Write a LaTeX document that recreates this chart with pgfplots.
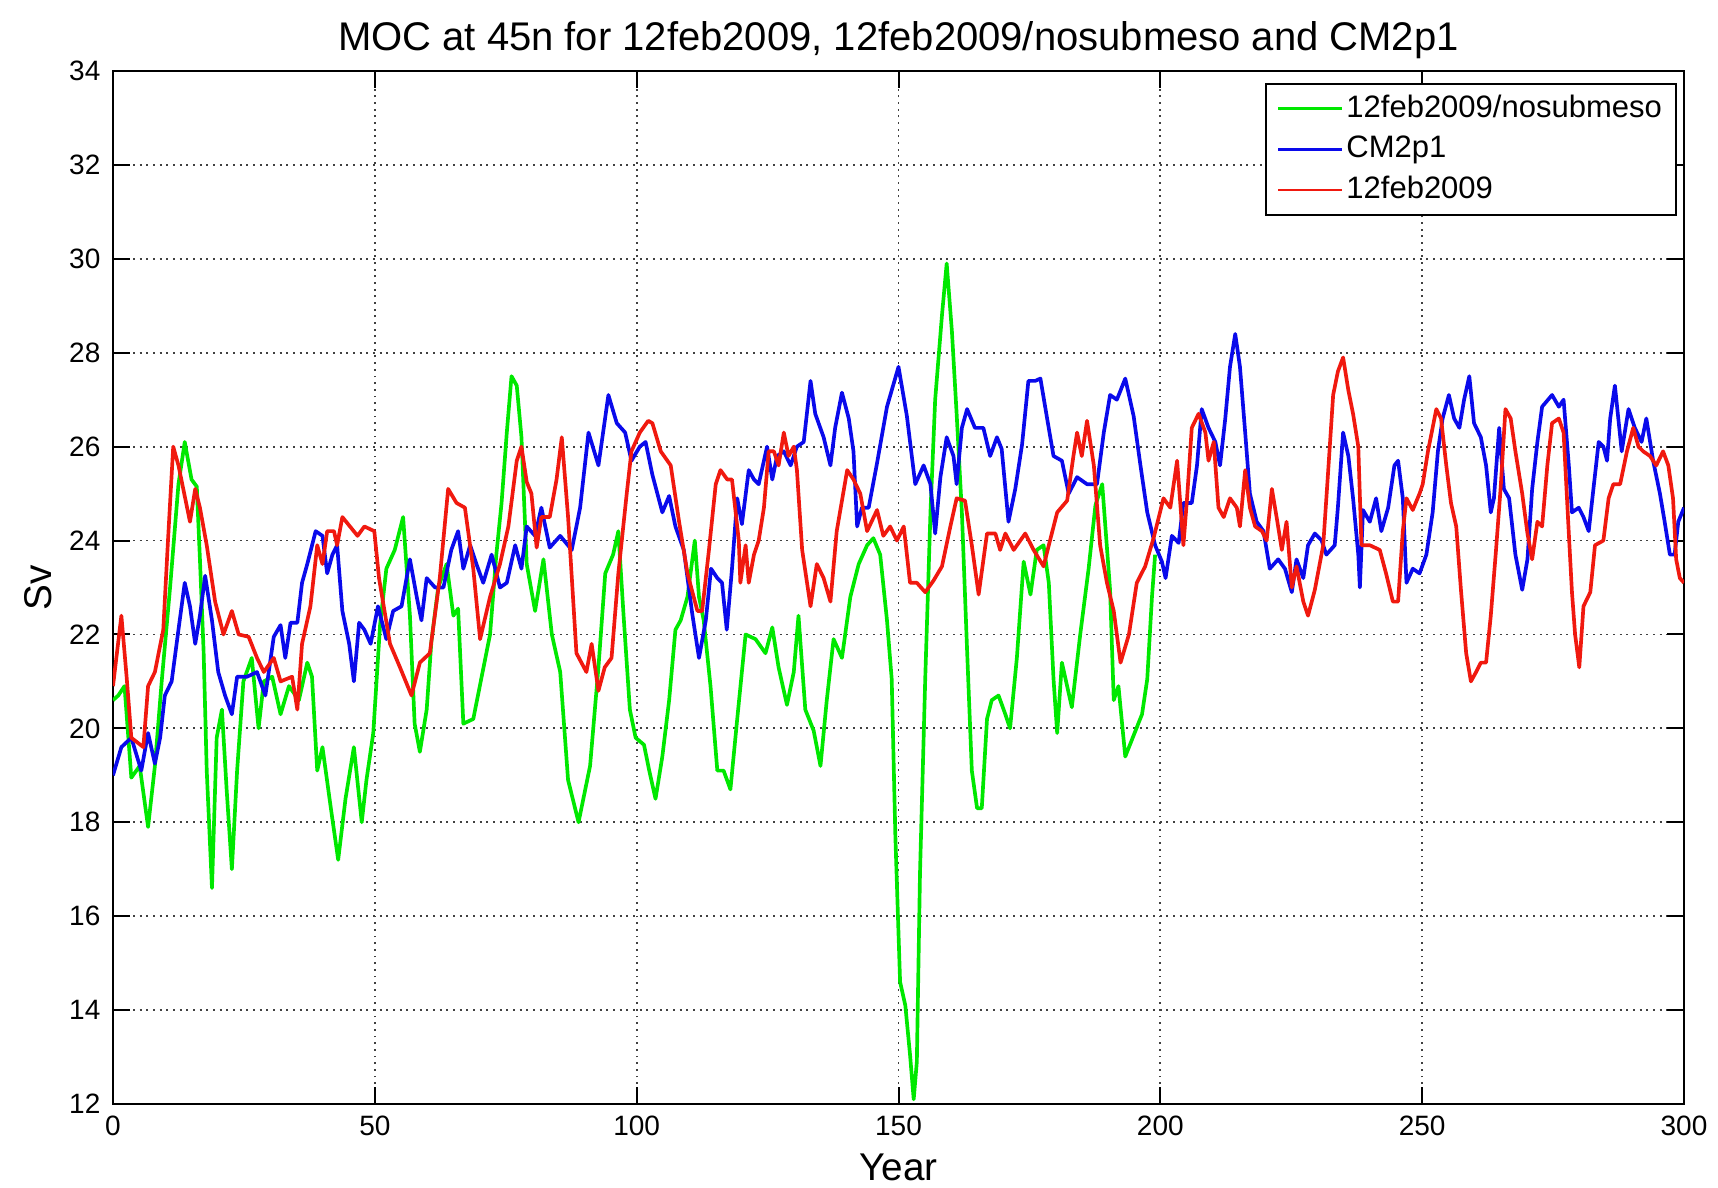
\documentclass[border=0pt]{standalone}
\usepackage{pgfplots}
\pgfplotsset{compat=1.18}
\usepackage{fontspec}
\setmainfont{Liberation Sans}

\definecolor{cgreen}{RGB}{0,232,0}
\definecolor{cblue}{RGB}{10,10,235}
\definecolor{cred}{RGB}{240,25,15}

\begin{document}
\begin{tikzpicture}
\begin{axis}[
  scale only axis,
  width=471.3pt, height=309.9pt,
  xmin=0, xmax=300, ymin=12, ymax=34,
  xtick={0,50,...,300}, ytick={12,14,...,34},
  xtick pos=both, ytick pos=both,
  xticklabel pos=left, yticklabel pos=left,
  tick align=inside,
  major tick length=5pt,
  tick style={black, line width=0.6pt},
  axis line style={black, line width=0.7pt},
  grid=major,
  major grid style={black!75, line width=0.55pt, dash pattern=on 0.55pt off 1.45pt},
  /pgf/number format/assume math mode=true,
  xticklabel style={font=\fontsize{8.4}{10}\selectfont, inner sep=0pt, anchor=north, yshift=-3.3pt},
  yticklabel style={font=\fontsize{8.4}{10}\selectfont, inner sep=0pt, anchor=east, xshift=-3.6pt},
  title={MOC at 45n for 12feb2009, 12feb2009/nosubmeso and CM2p1},
  title style={font=\fontsize{12}{14}\selectfont, at={(axis description cs:0.5,1)}, anchor=base, yshift=0pt, inner sep=0pt},
  xlabel={Year},
  xlabel style={font=\fontsize{11.6}{14}\selectfont, at={(axis description cs:0.5,-0.061)}, anchor=center},
  ylabel={Sv},
  ylabel style={font=\fontsize{11.6}{14}\selectfont, at={(axis description cs:-0.0477,0.5)}, anchor=center},
  legend cell align=left,
  legend image code/.code={\draw[#1, line width=0.8pt] (0pt,0pt) -- (19pt,0pt);},
  legend style={
    font=\fontsize{9.3}{11}\selectfont,
    draw=black, line width=0.5pt,
    at={(1,1)}, anchor=north east, xshift=-2.1pt, yshift=-3.6pt,
    inner xsep=3.3pt, inner ysep=2pt,
    nodes={inner sep=1pt, text height=7pt, text depth=2pt},
    row sep=1.2pt,
    /tikz/every even column/.append style={column sep=0.6pt},
  },
  every axis plot/.append style={line width=1.1pt, line join=round},
]
\coordinate (bl) at (rel axis cs:0,0);
\coordinate (tr) at (rel axis cs:1,1);

% 12feb2009/nosubmeso
\addplot[cgreen, no markers] coordinates {
(0,20.6) (1,20.7) (2.2,20.9) (3.5,18.95) (5.1,19.2) (6.7,17.9) (8.0,19.2) (9.3,21.0) (10.9,23.0) (12.5,25.2) (13.7,26.1) (15.0,25.3) (16.0,25.15) (16.6,23.6) (17.3,21.65) (17.9,19.1) (18.9,16.6) (19.8,19.8) (20.8,20.4) (21.7,18.7) (22.7,17.0) (23.7,19.1) (24.9,21.0) (26.5,21.5) (27.8,20.0) (28.8,21.0) (30.4,21.1) (32.0,20.3) (33.6,20.9) (35.5,20.6) (37.1,21.4) (38.0,21.1) (39.0,19.1) (40.0,19.6) (41.6,18.3) (43.0,17.2) (44.4,18.5) (46.0,19.6) (47.5,18.0) (48.4,18.9) (49.7,19.9)
(51.0,22.2) (52.2,23.4) (53.8,23.8) (55.4,24.5) (56.7,22.4) (57.6,20.1) (58.6,19.5) (59.9,20.4) (60.8,21.85) (62.1,23.0) (63.7,23.5) (65.0,22.4) (65.9,22.55) (66.9,20.1) (68.8,20.2) (70.4,21.1) (72.0,22.0) (73.2,23.7) (74.2,24.8) (75.2,26.3) (76.1,27.5) (77.1,27.3) (78.0,26.2) (79.0,23.5) (80.6,22.5) (82.2,23.6) (83.8,22.0) (85.4,21.2) (86.9,18.9) (88.9,18.0) (91.1,19.2) (92.7,21.3) (94.0,23.3) (95.5,23.7) (96.5,24.2) (97.5,22.4) (98.7,20.4) (99.8,19.8)
(101.4,19.65) (102.4,19.1) (103.6,18.5) (104.9,19.4) (106.2,20.6) (107.4,22.1) (108.4,22.3) (109.7,22.8) (111.1,24.0) (111.9,22.8) (112.8,22.3) (114.1,20.9) (115.4,19.1) (116.6,19.1) (117.9,18.7) (119.2,20.2) (120.8,22.0) (122.7,21.9) (124.6,21.6) (125.9,22.15) (127.1,21.3) (128.7,20.5) (130.0,21.2) (130.9,22.4) (132.2,20.4) (133.8,19.95) (135.1,19.2) (136.3,20.6) (137.6,21.9) (139.2,21.5) (140.8,22.8) (142.4,23.5) (144.0,23.9) (145.2,24.05) (146.5,23.7) (147.8,22.3) (148.7,21.05) (149.4,17.7)
(150.3,14.6) (151.3,14.1) (152.2,13.05) (152.9,12.1) (153.5,12.9) (154.1,16.9) (155.1,21.05) (156.1,24.6) (157.0,27.0) (158.3,28.8) (159.2,29.9) (160.2,28.45) (161.1,26.7) (162.1,24.6) (163.1,21.65) (164.0,19.1) (165.0,18.3) (165.9,18.3) (166.9,20.2) (167.8,20.6) (169.1,20.7) (170.4,20.3) (171.3,20.0) (172.6,21.5) (173.9,23.55) (175.2,22.85) (176.4,23.8) (177.7,23.9) (178.7,23.1) (179.6,21.05) (180.3,19.9) (181.2,21.4) (183.1,20.45) (184.7,22.0) (186.3,23.4) (187.6,24.75) (188.9,25.2) (190.4,22.95) (191.1,20.6) (192.0,20.9) (193.3,19.4) (194.9,19.85) (196.5,20.3) (197.5,21.05) (198.4,22.8) (199.0,23.7)
};
\addlegendentry{12feb2009/nosubmeso}

% CM2p1
\addplot[cblue, no markers] coordinates {
(0,19.0) (1.6,19.6) (3.5,19.8) (5.4,19.1) (6.7,19.9) (8.0,19.25) (9.0,19.8) (9.9,20.7) (11.2,21.0) (12.5,22.1) (13.7,23.1) (14.7,22.6) (15.7,21.8) (16.6,22.4) (17.6,23.25) (18.9,22.3) (20.1,21.2) (21.4,20.7) (22.7,20.3) (23.7,21.1) (25.6,21.1) (27.5,21.2) (29.1,20.7) (30.7,21.95) (32.0,22.2) (32.9,21.5) (33.9,22.25) (35.2,22.25) (36.1,23.1) (37.1,23.5) (38.7,24.2) (40.0,24.1) (40.9,23.3) (41.9,23.7) (42.8,23.9) (43.8,22.5) (45.1,21.8) (46.0,21.0) (47.0,22.25) (48.0,22.1) (49.2,21.8)
(50.6,22.6) (52.2,21.9) (53.5,22.5) (55.1,22.6) (56.7,23.6) (58.0,22.8) (58.9,22.3) (59.9,23.2) (61.5,23.0) (63.1,23.0) (64.6,23.8) (65.9,24.2) (66.9,23.4) (68.2,23.9) (69.4,23.5) (70.7,23.1) (72.3,23.7) (73.9,23.0) (75.2,23.1) (76.8,23.9) (78.0,23.4) (79.0,24.3) (80.6,24.1) (81.8,24.7) (83.4,23.85) (85.4,24.1) (87.6,23.8) (89.2,24.7) (90.8,26.3) (92.7,25.6) (94.6,27.1) (96.2,26.5) (97.8,26.3) (99.0,25.7)
(100.6,26.0) (101.7,26.1) (103.0,25.4) (104.9,24.6) (106.2,24.95) (107.4,24.3) (109.0,23.8) (110.6,22.45) (111.9,21.5) (113.2,22.3) (114.2,23.4) (115.4,23.2) (116.3,23.1) (117.2,22.1) (118.2,23.4) (119.2,24.9) (120.1,24.35) (121.4,25.5) (122.4,25.3) (123.3,25.2) (124.9,26.0) (125.9,25.3) (126.8,25.8) (128.1,25.9) (129.4,25.6) (130.6,26.0) (131.9,26.1) (133.2,27.4) (134.1,26.7) (135.7,26.2) (137.0,25.6) (137.9,26.4) (139.2,27.15) (140.5,26.6) (141.4,25.9) (142.1,24.3) (143.0,24.7) (144.3,24.7) (145.9,25.65) (147.8,26.85)
(150.0,27.7) (151.6,26.65) (153.2,25.2) (154.8,25.6) (156.1,25.2) (157.0,24.15) (158.0,25.35) (159.2,26.2) (160.5,25.8) (161.1,25.2) (162.1,26.4) (163.1,26.8) (164.6,26.4) (166.2,26.4) (167.5,25.8) (168.8,26.2) (169.7,25.95) (171.0,24.4) (172.3,25.1) (173.6,26.05) (174.8,27.4) (176.1,27.4) (177.1,27.45) (178.3,26.65) (179.6,25.8) (181.2,25.7) (182.5,25.0) (184.1,25.35) (186.0,25.2) (187.9,25.2) (189.2,26.3) (190.4,27.1) (191.7,27.0) (193.3,27.45) (194.9,26.65) (196.2,25.6) (197.5,24.6) (199.0,23.9)
(200.3,23.55) (201.0,23.2) (202.2,24.1) (203.5,23.95) (204.4,24.8) (206.0,24.8) (207.0,25.6) (207.9,26.8) (209.2,26.4) (210.5,26.1) (211.4,25.6) (212.4,26.6) (213.3,27.7) (214.3,28.4) (215.2,27.7) (216.2,26.3) (217.1,25.0) (218.4,24.4) (219.7,24.2) (220.9,23.4) (222.5,23.6) (223.8,23.4) (225.1,22.9) (226.0,23.6) (227.3,23.2) (228.2,23.9) (229.5,24.15) (230.8,24.0) (231.7,23.7) (233.3,23.9) (233.9,24.7) (234.9,26.3) (235.9,25.8) (236.8,24.9) (237.8,23.7) (238.1,23.0) (238.7,24.65) (240.0,24.4) (241.2,24.9) (242.2,24.2) (243.5,24.7) (244.7,25.6) (245.4,25.7) (246.3,24.9) (247.0,23.1) (248.2,23.4) (249.5,23.3)
(250.8,23.7) (252.0,24.6) (253.0,25.9) (253.9,26.6) (255.1,27.1) (256.1,26.6) (257.1,26.4) (258.0,27.0) (259.0,27.5) (259.9,26.5) (261.2,26.2) (262.2,25.6) (263.1,24.6) (263.7,24.9) (264.7,26.4) (265.6,25.1) (266.6,24.9) (267.8,23.7) (269.1,22.95) (270.1,23.6) (271.0,25.1) (272.0,26.1) (272.9,26.85) (274.8,27.1) (276.1,26.85) (277.0,27.0) (278.0,25.6) (278.6,24.6) (279.9,24.7) (280.8,24.5) (281.8,24.2) (282.7,25.1) (283.7,26.1) (284.6,26.0) (285.3,25.7) (285.9,26.6) (286.8,27.3) (288.1,25.9) (289.4,26.8) (290.6,26.4) (291.9,26.1) (292.8,26.6) (294.1,25.7) (295.4,25.0) (296.3,24.4) (297.3,23.7) (298.2,23.7) (298.9,24.4) (300,24.7)
};
\addlegendentry{CM2p1}

% 12feb2009
\addplot[cred, no markers] coordinates {
(0,20.9) (1.6,22.4) (2.6,21.1) (3.5,19.8) (5.8,19.6) (6.7,20.9) (8.0,21.2) (9.6,22.1) (10.5,24.0) (11.5,26.0) (12.5,25.6) (14.7,24.4) (15.7,25.1) (16.6,24.7) (17.9,23.9) (19.5,22.7) (21.1,22.0) (22.7,22.5) (24.0,22.0) (25.9,21.95) (27.5,21.5) (28.8,21.2) (30.7,21.5) (32.0,21.0) (34.2,21.1) (35.2,20.4) (36.1,21.8) (37.7,22.6) (39.0,23.9) (40.0,23.5) (40.9,24.2) (42.2,24.2) (42.8,23.9) (43.8,24.5) (46.7,24.1) (48.0,24.3) (49.9,24.2)
(50.8,23.2) (52.9,21.8) (54.8,21.3) (57.0,20.7) (58.6,21.4) (60.5,21.6) (62.4,23.2) (64.0,25.1) (65.6,24.8) (67.2,24.7) (68.8,23.4) (70.1,21.9) (72.0,22.8) (73.9,23.5) (75.5,24.3) (77.1,25.7) (78.0,26.0) (79.0,25.25) (79.9,25.0) (80.9,23.85) (81.8,24.5) (83.4,24.5) (84.7,25.3) (85.7,26.2) (86.9,24.5) (88.5,21.6) (90.4,21.2) (91.4,21.8) (92.7,20.8) (93.9,21.3) (95.2,21.5) (96.5,23.3) (98.1,25.0) (99.0,25.9)
(100.6,26.3) (102.2,26.55) (103.0,26.5) (104.6,25.9) (106.5,25.6) (108.1,24.4) (109.7,23.3) (111.6,22.5) (112.5,22.5) (113.8,23.8) (115.1,25.2) (116.0,25.5) (117.3,25.3) (118.2,25.3) (119.5,24.0) (119.8,23.1) (120.8,23.9) (121.4,23.1) (122.4,23.7) (123.3,24.0) (124.3,24.7) (125.2,25.9) (126.2,25.9) (127.1,25.6) (128.1,26.3) (129.0,25.8) (130.0,26.0) (130.6,25.5) (131.6,23.8) (133.2,22.6) (134.4,23.5) (135.7,23.2) (137.0,22.7) (138.2,24.2) (140.2,25.5) (141.4,25.3) (142.7,25.0) (144.0,24.2) (145.9,24.65) (147.1,24.1) (148.4,24.3) (149.7,24.0)
(151.0,24.3) (152.2,23.1) (153.5,23.1) (155.1,22.9) (156.7,23.15) (158.3,23.45) (159.9,24.3) (161.1,24.9) (162.7,24.85) (164.0,23.9) (165.3,22.85) (166.9,24.15) (168.5,24.15) (169.4,23.8) (170.4,24.15) (172.0,23.8) (174.2,24.15) (175.8,23.8) (177.7,23.45) (178.7,23.9) (180.3,24.6) (182.2,24.85) (183.4,25.8) (184.1,26.3) (185.0,25.8) (186.0,26.55) (187.3,25.6) (188.5,23.9) (189.8,23.1) (191.1,22.5) (192.4,21.4) (194.0,22.0) (195.5,23.1) (197.1,23.45) (198.7,24.05)
(200.6,24.9) (201.9,24.7) (203.2,25.7) (204.4,23.9) (205.1,24.9) (206.0,26.4) (207.3,26.7) (208.6,26.3) (209.2,25.7) (210.2,26.1) (211.1,24.7) (212.1,24.5) (213.3,24.9) (214.6,24.7) (215.2,24.3) (216.2,25.5) (217.1,24.7) (218.1,24.3) (219.4,24.2) (220.3,24.0) (221.3,25.1) (222.2,24.5) (223.2,23.8) (224.1,24.4) (225.1,23.0) (226.0,23.45) (227.3,22.7) (228.2,22.4) (229.5,22.95) (231.1,23.9) (232.0,25.4) (233.0,27.1) (233.9,27.6) (234.9,27.9) (235.9,27.2) (236.8,26.7) (237.8,26.0) (238.4,23.9) (240.0,23.9) (241.9,23.8) (243.1,23.3) (244.4,22.7) (245.4,22.7) (246.3,24.2) (247.0,24.9) (248.2,24.65) (249.5,25.0)
(250.1,25.2) (251.1,25.9) (252.7,26.8) (253.6,26.6) (254.6,25.6) (255.5,24.8) (256.5,24.3) (257.4,22.95) (258.4,21.6) (259.3,21.0) (260.3,21.2) (261.2,21.4) (262.2,21.4) (263.1,22.4) (264.1,23.8) (265.0,25.15) (265.9,26.8) (266.9,26.6) (267.8,25.9) (269.1,25.0) (270.1,24.15) (271.0,23.6) (272.0,24.4) (272.9,24.3) (273.9,25.6) (274.8,26.5) (276.1,26.6) (277.0,26.3) (278.0,24.15) (278.6,22.9) (279.2,22.0) (280.0,21.3) (280.8,22.6) (282.1,22.9) (283.0,23.9) (284.6,24.0) (285.6,24.9) (286.5,25.2) (287.8,25.2) (289.1,25.9) (290.3,26.4) (291.3,26.0) (292.2,25.9) (293.5,25.8) (294.7,25.6) (296.0,25.9) (297.0,25.6) (297.9,24.9) (298.5,23.6) (299.2,23.2) (300,23.1)
};
\addlegendentry{12feb2009}
\end{axis}
% page frame around the axis
\pgfresetboundingbox
\path ([shift={(-33.9pt,-24.9pt)}]bl) rectangle ([shift={(10.2pt,21.3pt)}]tr);
\end{tikzpicture}
\end{document}
